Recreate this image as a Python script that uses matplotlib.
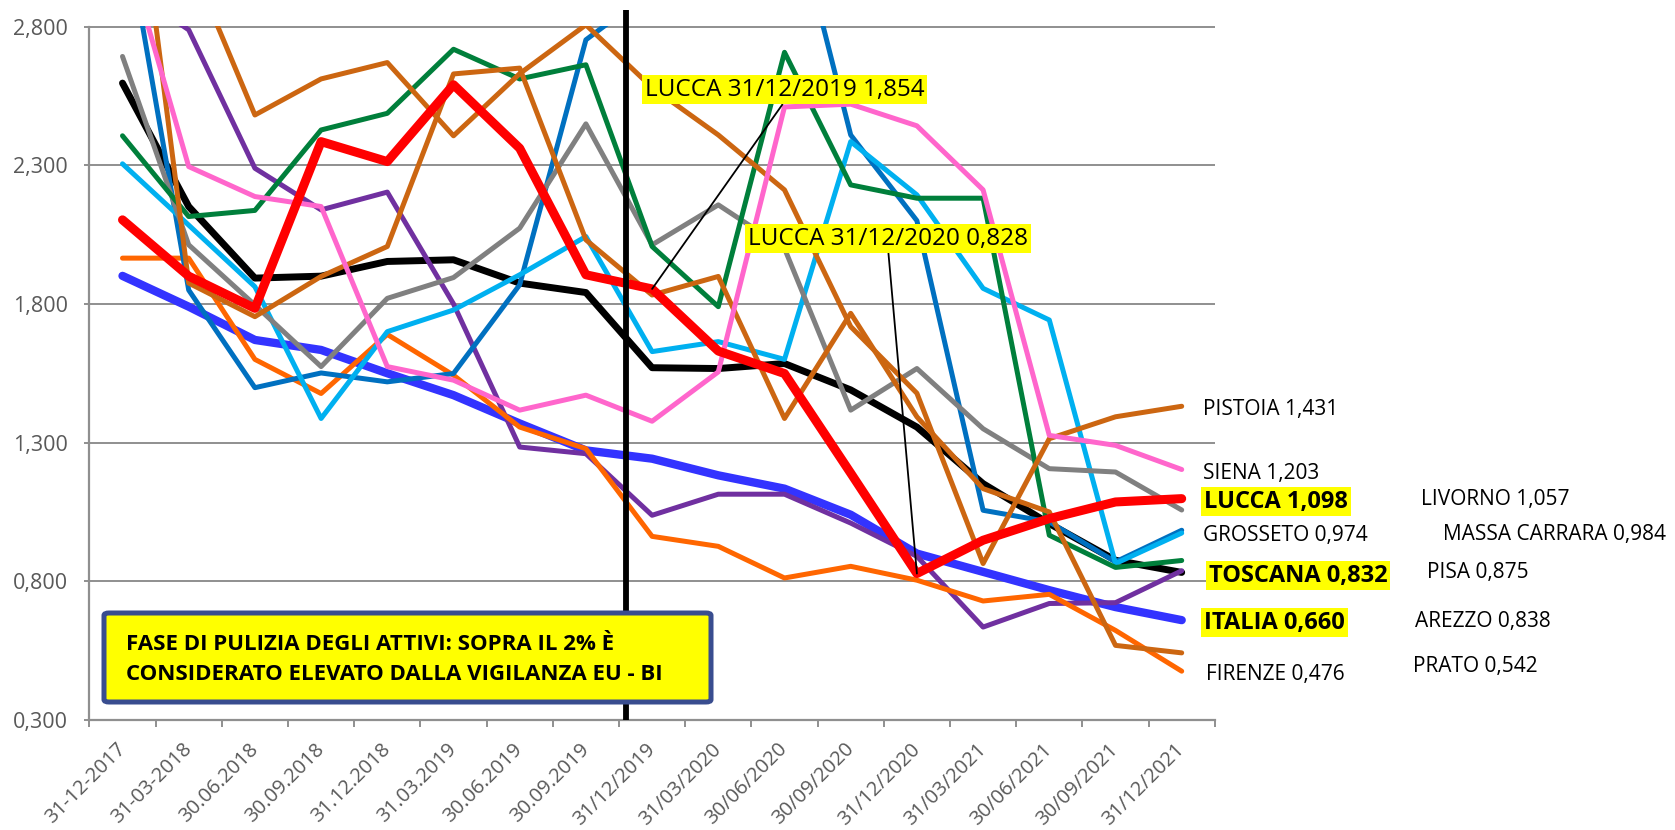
import numpy as np
import matplotlib.pyplot as plt
from matplotlib.patches import FancyBboxPatch

plt.rcParams['font.family'] = ['Open Sans', 'DejaVu Sans']

# --- data ---
categories = ["31-12-2017", "31-03-2018", "30.06.2018", "30.09.2018", "31.12.2018",
              "31.03.2019", "30.06.2019", "30.09.2019", "31/12/2019", "31/03/2020",
              "30/06/2020", "30/09/2020", "31/12/2020", "31/03/2021", "30/06/2021",
              "30/09/2021", "31/12/2021"]

italia = [1.901, 1.790, 1.670, 1.634, 1.550, 1.471, 1.369, 1.272, 1.242, 1.182,
          1.134, 1.040, 0.900, 0.834, 0.768, 0.707, 0.660]
toscana = [2.596, 2.151, 1.893, 1.900, 1.953, 1.959, 1.875, 1.841, 1.570, 1.567,
           1.585, 1.490, 1.356, 1.152, 1.008, 0.876, 0.832]
arezzo = [2.950, 2.788, 2.289, 2.139, 2.203, 1.800, 1.284, 1.260, 1.038, 1.114,
          1.114, 1.010, 0.890, 0.635, 0.720, 0.723, 0.838]
firenze = [1.965, 1.965, 1.600, 1.477, 1.690, 1.543, 1.356, 1.278, 0.962, 0.926,
           0.812, 0.854, 0.804, 0.729, 0.753, 0.623, 0.476]
massa = [3.216, 1.850, 1.498, 1.551, 1.519, 1.549, 1.869, 2.752, 2.930, 3.100,
         3.350, 2.409, 2.100, 1.056, 1.014, 0.870, 0.984]
grosseto = [2.305, 2.084, 1.862, 1.387, 1.700, 1.778, 1.905, 2.043, 1.628, 1.664,
            1.600, 2.385, 2.193, 1.856, 1.742, 0.864, 0.974]
livorno = [2.692, 2.013, 1.796, 1.574, 1.820, 1.895, 2.073, 2.449, 2.013, 2.157,
           2.000, 1.417, 1.567, 1.350, 1.206, 1.194, 1.057]
pisa = [2.406, 2.115, 2.137, 2.427, 2.487, 2.718, 2.611, 2.662, 2.007, 1.790,
        2.707, 2.229, 2.181, 2.181, 0.966, 0.850, 0.875]
pistoia = [3.300, 3.050, 2.481, 2.611, 2.670, 2.406, 2.630, 2.806, 2.580, 2.409,
           2.211, 1.718, 1.478, 0.864, 1.314, 1.393, 1.431]
prato = [3.750, 1.875, 1.754, 1.899, 2.007, 2.629, 2.650, 2.031, 1.832, 1.899,
         1.387, 1.766, 1.393, 1.134, 1.050, 0.569, 0.542]
siena = [3.120, 2.295, 2.187, 2.151, 1.574, 1.525, 1.417, 1.471, 1.377, 1.555,
         2.510, 2.520, 2.442, 2.211, 1.326, 1.290, 1.203]
lucca = [2.103, 1.900, 1.784, 2.385, 2.313, 2.590, 2.361, 1.905, 1.854, 1.630,
         1.549, 1.190, 0.828, 0.948, 1.026, 1.086, 1.098]

yticks = [0.3, 0.8, 1.3, 1.8, 2.3, 2.8]
note_text = ["FASE DI PULIZIA DEGLI ATTIVI: SOPRA IL 2% È",
             "CONSIDERATO ELEVATO DALLA VIGILANZA EU - BI"]

# name, values, colour, linewidth, right-label (x px, y px, highlighted)
series = [
    ("ITALIA", italia, "#3333FF", 6.0, (1204, 620, True)),
    ("TOSCANA", toscana, "black", 5.0, (1209, 573, True)),
    ("AREZZO", arezzo, "#7030A0", 3.6, (1415, 619, False)),
    ("FIRENZE", firenze, "#FF6600", 3.6, (1206, 672, False)),
    ("MASSA CARRARA", massa, "#0070C0", 3.6, (1443, 532, False)),
    ("GROSSETO", grosseto, "#00B0F0", 3.6, (1203, 533, False)),
    ("LIVORNO", livorno, "#808080", 3.6, (1421, 497, False)),
    ("PISA", pisa, "#007F3B", 3.6, (1427, 570, False)),
    ("PISTOIA", pistoia, "#CC6611", 3.6, (1203, 408, False)),
    ("PRATO", prato, "#CC6611", 3.6, (1413, 664, False)),
    ("SIENA", siena, "#FF66CC", 3.6, (1203, 471, False)),
    ("LUCCA", lucca, "#FF0000", 6.5, (1204, 499, True)),
]

W, H = 1675, 830
fig = plt.figure(figsize=(W / 100, H / 100), dpi=100)


def fx(x):
    return x / W


def fy(y):
    return 1 - y / H


ax = fig.add_axes([fx(89.4), fy(720), (1214.8 - 89.4) / W, (720 - 26.5) / H])
x = np.arange(len(categories))

for i, (name, vals, col, lw, lab) in enumerate(series):
    ax.plot(x, vals, color=col, lw=lw, solid_capstyle='round',
            solid_joinstyle='round', zorder=3 + i * 0.01)

ax.set_xlim(-0.5, len(categories) - 0.5)
ax.set_ylim(0.3, 2.8)

grid_col = "#8F8F8F"
ax.set_yticks(yticks)
ax.set_yticklabels([f"{v:.3f}".replace('.', ',') for v in yticks])
for v in yticks[1:]:
    ax.axhline(v, color=grid_col, lw=1.4, zorder=1)
for s in ['top', 'right']:
    ax.spines[s].set_visible(False)
for s in ['left', 'bottom']:
    ax.spines[s].set_color(grid_col)
    ax.spines[s].set_linewidth(1.6)
ax.tick_params(axis='y', labelsize=15.5, labelcolor='#595959', color=grid_col,
               length=3.6, width=1.4, pad=12)

ax.set_xticks(x)
ax.set_xticks(np.arange(-0.5, len(categories)), minor=True)
ax.set_xticklabels(categories, rotation=45, ha='right', va='center',
                   rotation_mode='anchor')
ax.tick_params(axis='x', which='major', length=0, labelsize=14.5,
               labelcolor='#595959', pad=19)
ax.tick_params(axis='x', which='minor', length=4.8, width=1.4, color=grid_col)

# vertical divider at end of 2019
ax.plot([7.6, 7.6], [0.3, 2.86], color='black', lw=4.2, zorder=6,
        clip_on=False, solid_capstyle='butt')

# LUCCA callouts
for idx, (cx, cy) in [(8, (784.5, 89.5)), (12, (888.2, 238.5))]:
    txt = f"LUCCA {categories[idx]} {lucca[idx]:.3f}".replace('.', ',')
    ax.annotate(txt, xy=(idx, lucca[idx]), xycoords='data',
                xytext=(cx, H - cy), textcoords='figure pixels',
                ha='center', va='center', fontsize=17.5, zorder=8,
                bbox=dict(boxstyle='square,pad=0.12', fc='#FFFF00', ec='none'),
                arrowprops=dict(arrowstyle='-', color='black', lw=1.3,
                                relpos=(0.5, 0), shrinkA=0, shrinkB=0))

# right-hand labels
for name, vals, col, lw, (lx, ly, hi) in series:
    txt = f"{name} {vals[-1]:.3f}".replace('.', ',')
    if hi:
        fig.text(fx(lx), fy(ly + 8.5), txt, fontsize=17, fontweight='bold',
                 ha='left', va='baseline',
                 bbox=dict(boxstyle='square,pad=0.12', fc='#FFFF00', ec='none'))
    else:
        fig.text(fx(lx), fy(ly + 7.5), txt, fontsize=15, ha='left',
                 va='baseline', color='black')

# note box (drawn above the axes, so it hides the divider)
box = FancyBboxPatch((fx(104), fy(702)), fx(711) - fx(104), fy(613) - fy(702),
                     boxstyle='round,pad=0,rounding_size=0.003',
                     transform=fig.transFigure, fc='#FFFF00', ec='#394D8F',
                     lw=3.6, zorder=5)
fig.add_artist(box)
for k, line in enumerate(note_text):
    fig.text(fx(126), fy(642 + 30 * k + 8), line, fontsize=16,
             fontweight='bold', ha='left', va='baseline', zorder=6)

fig.savefig("out.png", dpi=100)
